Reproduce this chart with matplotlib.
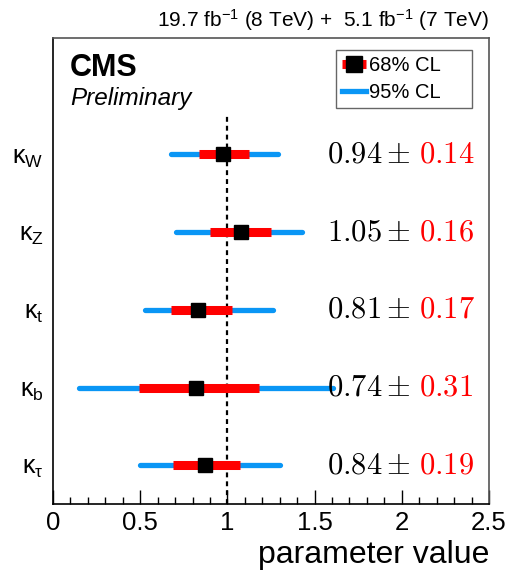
import matplotlib
matplotlib.use('Agg')
import matplotlib.pyplot as plt
from matplotlib.lines import Line2D
import numpy as np

plt.rcParams['font.family'] = ['Liberation Sans', 'DejaVu Sans']
plt.rcParams['mathtext.fontset'] = 'custom'
plt.rcParams['mathtext.rm'] = 'Liberation Sans'
plt.rcParams['mathtext.it'] = 'Liberation Sans'

# ── 数据 ──
labels = [r'$\kappa_{\rm W}$', r'$\kappa_{\rm Z}$', r'$\kappa_{\rm t}$',
          r'$\kappa_{\rm b}$', r'$\kappa_{\tau}$']
best = [0.975, 1.08, 0.833, 0.82, 0.87]
lo68 = [0.835, 0.90, 0.675, 0.495, 0.686]
hi68 = [1.126, 1.25, 1.026, 1.183, 1.072]
lo95 = [0.677, 0.705, 0.529, 0.149, 0.499]
hi95 = [1.288, 1.426, 1.263, 1.607, 1.302]
val_txt = ['0.94', '1.05', '0.81', '0.74', '0.84']
err_txt = ['0.14', '0.16', '0.17', '0.31', '0.19']

BLUE = '#0a96f5'
RED = '#ff0000'

fig = plt.figure(figsize=(5.11, 5.71), dpi=100)
ax = fig.add_axes([0.1037, 0.1173, 0.8533, 0.8162])

ypos = np.arange(len(labels))[::-1] + 0.5

ax.plot([1, 1], [0, 5], color='black', ls=(0, (2.2, 1.8)), lw=1.6, zorder=1)

for i, y in enumerate(ypos):
    ax.plot([lo95[i], hi95[i]], [y, y], color=BLUE, lw=3.8,
            solid_capstyle='round', zorder=2)
    ax.plot([lo68[i], hi68[i]], [y, y], color=RED, lw=6.5,
            solid_capstyle='butt', zorder=3)
    ax.plot(best[i], y, 's', color='black', ms=10, zorder=4)
    ax.text(2.053, y, r'$%s\pm$' % val_txt[i], math_fontfamily='cm',
            fontsize=22, ha='right', va='center', color='black')
    ax.text(2.100, y, r'$%s$' % err_txt[i], math_fontfamily='cm',
            fontsize=22, ha='left', va='center', color=RED)

ax.set_xlim(0, 2.5)
ax.set_ylim(0, 6)
ax.set_yticks(ypos)
ax.set_yticklabels(labels, fontsize=18)
ax.tick_params(axis='y', length=0, pad=7)
ax.set_xticks([0, 0.5, 1, 1.5, 2, 2.5])
ax.set_xticklabels(['0', '0.5', '1', '1.5', '2', '2.5'], fontsize=18.5)
ax.set_xticks(np.arange(0, 2.51, 0.1), minor=True)
ax.tick_params(axis='x', which='major', direction='in', length=10, width=1, pad=5)
ax.tick_params(axis='x', which='minor', direction='in', length=5, width=1)
for sp in ax.spines.values():
    sp.set_linewidth(1.2)
ax.spines['right'].set_color('#555555')
ax.spines['top'].set_color('#555555')

ax.set_xlabel('parameter value', fontsize=23, loc='right')
ax.xaxis.label.set_va('baseline')
ax.xaxis.set_label_coords(1.0, -0.1266)

fig.text(0.957, 0.965, r'19.7 fb$^{-1}$ (8 TeV) +  5.1 fb$^{-1}$ (7 TeV)',
         ha='right', va='center', fontsize=15)
ax.text(0.039, 0.935, 'CMS', transform=ax.transAxes, fontsize=22,
        fontweight='bold', ha='left', va='center')
ax.text(0.039, 0.87, 'Preliminary', transform=ax.transAxes, fontsize=17.5,
        style='italic', ha='left', va='center')

h68 = (Line2D([0], [0], color=RED, lw=6.5, solid_capstyle='butt'),
       Line2D([0], [0], marker='s', color='black', ms=11, ls='none'))
h95 = Line2D([0], [0], color=BLUE, lw=3.8)
leg = ax.legend([h68, h95], ['68% CL', '95% CL'], loc='upper left',
                bbox_to_anchor=(0.649, 0.850, 0.312, 0.124), mode='expand',
                fontsize=14.5, fancybox=False,
                framealpha=1, edgecolor='#666666', handlelength=1.2,
                handletextpad=0.15, borderpad=0.3, labelspacing=0.4,
                borderaxespad=0)
leg.get_frame().set_linewidth(1)

fig.savefig('out.png', dpi=100, facecolor='white')
